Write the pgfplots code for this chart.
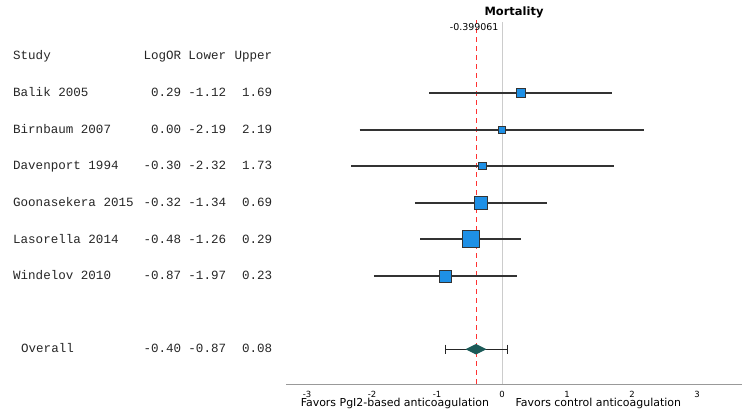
\documentclass[border=0pt]{standalone}
\usepackage{pgfplots}
\pgfplotsset{compat=1.18}
\usepackage{fontspec}
\newfontfamily\dejavu{DejaVu Sans}
\newfontfamily\mono{Liberation Mono}

\definecolor{boxblue}{RGB}{30,144,230}
\definecolor{diamteal}{RGB}{28,90,88}
\definecolor{refred}{RGB}{255,50,50}

% one table row of the left column block: #1 = y of baseline, #2..#5 = texts
\newcommand{\tabrow}[5]{%
  \node[anchor=base west] at (axis cs:-7.575,#1) {#2};
  \node[anchor=base east] at (axis cs:-4.88,#1) {#3};
  \node[anchor=base east] at (axis cs:-4.19,#1) {#4};
  \node[anchor=base east] at (axis cs:-3.48,#1) {#5};
}

\begin{document}
\begin{tikzpicture}
\begin{axis}[
    scale only axis,
    width=456bp, height=384bp,
    xmin=-3.323, xmax=3.692,
    ymin=-8.95, ymax=1.541,
    axis x line=bottom,
    axis y line=none,
    x axis line style={-, draw=gray!80, line width=0.8bp},
    xtick={-3,-2,-1,0,1,2,3},
    xticklabels={-3,-2,-1,0,1,2,3},
    major tick length=0pt,
    xticklabel style={font=\dejavu\fontsize{8.5}{9}\selectfont, anchor=center, yshift=-10bp},
    clip=false,
    every node/.style={inner sep=0pt},
    ci/.style={black!80, line width=1.9bp},
    box/.style={only marks, mark=square*, mark options={fill=boxblue, draw=black!80, line width=0.9bp}},
]

% reference lines
\addplot[gray!40, line width=0.8bp] coordinates {(0,-8.95) (0,0.94)};
\addplot[refred, line width=0.9bp, dash pattern=on 5bp off 4bp] coordinates {(-0.399061,-8.95) (-0.399061,1.0)};

% confidence intervals
\addplot[ci] coordinates {(-1.12,-1) (1.69,-1)};
\addplot[ci] coordinates {(-2.19,-2) (2.19,-2)};
\addplot[ci] coordinates {(-2.32,-3) (1.73,-3)};
\addplot[ci] coordinates {(-1.34,-4) (0.69,-4)};
\addplot[ci] coordinates {(-1.26,-5) (0.29,-5)};
\addplot[ci] coordinates {(-1.97,-6) (0.23,-6)};

% study estimates (box size ~ weight)
\addplot[box, mark size=4.5] coordinates {(0.29,-1)};
\addplot[box, mark size=3.5] coordinates {(0.00,-2)};
\addplot[box, mark size=3.7] coordinates {(-0.30,-3)};
\addplot[box, mark size=6.5] coordinates {(-0.32,-4)};
\addplot[box, mark size=8.5] coordinates {(-0.48,-5)};
\addplot[box, mark size=6] coordinates {(-0.87,-6)};

% overall
\addplot[black!85, line width=1.4bp, mark=|, mark size=4.5, mark options={line width=1.4bp}] coordinates {(-0.87,-8) (0.08,-8)};
\addplot[only marks, mark=diamond*, mark size=5, mark options={xscale=2.67, fill=diamteal, draw=diamteal}] coordinates {(-0.40,-8)};

% titles
\node[font=\dejavu\bfseries\fontsize{11.5}{13}\selectfont, anchor=center] at (axis cs:0.185,1.213) {Mortality};
\node[font=\dejavu\fontsize{9.5}{11}\selectfont, anchor=east] at (axis cs:0.0,0.803) {-0.399061};
\node[font=\dejavu\fontsize{11}{13}\selectfont, anchor=west] at (axis cs:-3.15,-9.47) {Favors PgI2-based anticoagulation};
\node[font=\dejavu\fontsize{11}{13}\selectfont, anchor=west] at (axis cs:0.154,-9.47) {Favors control anticoagulation};

% left table
\begin{scope}[every node/.append style={font=\mono\fontsize{12.6}{14}\selectfont, text=black!85}]
\tabrow{-0.098}{Study}{LogOR}{Lower}{Upper}
\tabrow{-1.098}{Balik 2005}{0.29}{-1.12}{1.69}
\tabrow{-2.098}{Birnbaum 2007}{0.00}{-2.19}{2.19}
\tabrow{-3.098}{Davenport 1994}{-0.30}{-2.32}{1.73}
\tabrow{-4.098}{Goonasekera 2015}{-0.32}{-1.34}{0.69}
\tabrow{-5.098}{Lasorella 2014}{-0.48}{-1.26}{0.29}
\tabrow{-6.098}{Windelov 2010}{-0.87}{-1.97}{0.23}
\node[anchor=base west] at (axis cs:-7.452,-8.098) {Overall};
\node[anchor=base east] at (axis cs:-4.88,-8.098) {-0.40};
\node[anchor=base east] at (axis cs:-4.19,-8.098) {-0.87};
\node[anchor=base east] at (axis cs:-3.48,-8.098) {0.08};
\end{scope}

\coordinate (bbtl) at (axis cs:-7.723,1.541);
\coordinate (bbbr) at (axis cs:3.815,-9.85);
\end{axis}
\path (bbtl) rectangle (bbbr);
\end{tikzpicture}
\end{document}
